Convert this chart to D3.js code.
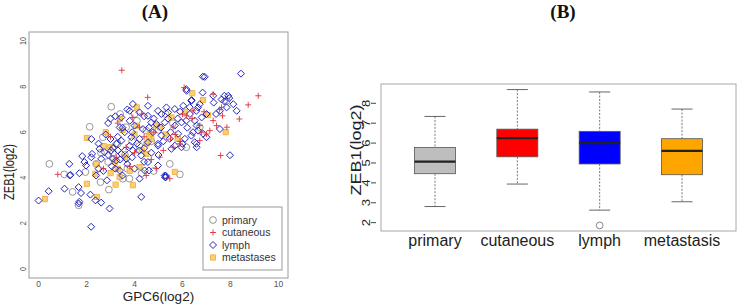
<!DOCTYPE html>
<html>
<head>
<meta charset="utf-8">
<script src="https://cdn.jsdelivr.net/npm/d3@7"></script>
<style>
  html, body { margin: 0; padding: 0; background: #fff; }
  svg { display: block; font-family: "Liberation Sans", Arial, sans-serif; }
</style>
</head>
<body>
<div id="chart"></div>
<script>
// ---- panel A: scatter GPC6 vs ZEB1 (log2) ----
const axisTicksA = [0, 2, 4, 6, 8, 10];

const primaryPts = [
  [0.45, 4.61], [1.07, 4.15], [1.42, 3.38], [1.67, 2.79], [1.95, 4.25], [2.13, 6.24], [2.58, 3.81],
  [2.93, 3.48], [3.03, 7.12], [3.51, 3.96], [3.79, 3.96], [5.47, 4.61], [5.89, 4.15], [2.4, 4.61],
  [2.68, 5.78], [4.49, 6.07], [6.72, 6.22], [7.84, 7.38], [6.16, 5.34], [3.65, 6.22], [3.3, 5.5],
  [3.6, 5.0], [4.0, 6.8], [4.2, 5.4], [4.7, 5.6], [5.0, 6.1], [5.3, 6.8], [2.9, 4.7], [3.9, 5.6],
  [3.4, 6.8], [4.3, 4.2], [4.8, 4.3], [3.1, 5.1], [5.6, 6.4], [4.1, 6.5], [3.7, 4.4], [2.6, 5.1]
];

const cutaneousPts = [
  [3.47, 8.72], [4.55, 7.53], [6.07, 7.96], [9.16, 7.6], [8.74, 7.2], [8.37, 6.58], [7.59, 4.98],
  [7.28, 7.67], [7.63, 7.09], [7.67, 6.72], [7.85, 6.22], [7.28, 6.51], [7.14, 6.07], [7.0, 5.92],
  [7.42, 6.29], [6.72, 6.29], [6.44, 6.94], [6.16, 6.72], [5.89, 5.49], [5.61, 5.34], [5.47, 3.96],
  [5.05, 4.9], [4.9, 4.4], [4.49, 4.1], [0.8, 4.15], [3.93, 6.65], [3.24, 4.9], [5.61, 6.22],
  [3.65, 5.34], [4.21, 6.22], [6.72, 5.63], [7.55, 7.0], [3.0, 5.8], [4.4, 5.8], [4.8, 6.0],
  [5.2, 5.2], [5.7, 5.9], [6.0, 6.8], [6.4, 6.6], [3.3, 6.4], [4.0, 5.1], [4.7, 4.8], [5.5, 5.7],
  [6.9, 6.9], [2.7, 4.4], [3.8, 4.5], [5.9, 5.6], [6.8, 6.0], [4.3, 6.8]
];

const lymphPts = [
  [0.0, 3.0], [0.42, 3.41], [1.08, 3.52], [1.28, 4.61], [1.33, 4.13], [1.67, 3.59], [1.77, 3.33],
  [1.67, 2.87], [1.7, 2.95], [2.16, 3.26], [2.19, 1.85], [2.37, 3.01], [2.61, 2.91], [2.96, 2.65],
  [1.82, 4.95], [1.91, 4.69], [1.98, 4.54], [2.23, 5.05], [2.61, 4.83], [2.85, 3.89], [2.75, 5.12],
  [3.03, 5.2], [3.1, 4.83], [2.54, 5.27], [2.2, 5.7], [2.5, 5.5], [2.8, 5.9], [3.0, 6.6], [3.2, 6.7],
  [3.05, 4.5], [2.7, 4.3], [3.31, 5.2], [3.66, 4.83], [3.24, 4.76], [3.93, 5.2], [4.28, 4.98],
  [4.56, 4.69], [4.21, 3.96], [4.42, 4.32], [4.98, 4.54], [5.26, 4.1], [5.3, 4.02], [5.54, 5.27],
  [5.96, 5.34], [6.59, 5.34], [4.98, 5.41], [4.28, 3.16], [3.45, 5.05], [3.8, 5.41], [3.38, 4.32],
  [6.85, 8.44], [6.17, 7.82], [6.38, 7.41], [6.84, 7.74], [4.56, 7.16], [3.93, 7.24], [3.8, 6.94],
  [4.21, 6.87], [4.98, 6.94], [5.33, 7.09], [5.4, 6.87], [5.68, 7.02], [5.12, 6.8], [6.03, 7.16],
  [6.31, 6.8], [6.65, 7.09], [6.8, 6.65], [3.8, 6.5], [3.45, 6.65], [4.56, 6.72], [4.7, 6.43],
  [4.0, 6.29], [4.35, 6.14], [4.91, 6.36], [5.26, 6.43], [5.68, 6.29], [5.96, 6.43], [6.59, 6.29],
  [6.44, 6.0], [6.86, 5.93], [3.38, 6.21], [3.59, 6.0], [3.87, 5.78], [4.21, 5.71], [4.77, 6.0],
  [5.12, 5.86], [5.47, 5.71], [5.82, 5.93], [6.1, 5.71], [3.45, 5.63], [4.56, 5.56], [4.98, 5.49],
  [5.68, 5.41], [6.51, 5.56], [3.24, 5.49], [7.28, 7.6], [7.63, 7.44], [7.91, 7.6], [7.95, 7.5],
  [7.75, 7.35], [8.12, 7.23], [8.26, 6.94], [7.84, 7.09], [7.56, 6.94], [7.4, 6.8], [7.0, 6.8],
  [6.72, 7.23], [6.37, 7.38], [6.16, 7.89], [6.58, 6.94], [6.51, 6.51], [6.16, 6.51], [6.65, 6.07],
  [7.0, 5.78], [7.56, 6.14], [6.58, 5.49], [6.37, 5.85], [6.0, 5.49], [8.44, 8.57], [6.93, 8.43],
  [7.98, 4.99], [5.3, 4.09], [5.28, 4.02], [4.6, 4.32], [7.3, 7.3], [7.75, 7.6], [3.6, 5.2],
  [3.7, 4.6], [3.9, 4.9], [4.1, 5.5], [4.4, 5.3], [4.7, 5.1], [5.0, 5.0], [5.2, 5.6], [5.5, 6.0],
  [5.8, 6.6], [6.2, 6.2], [3.3, 5.8], [3.5, 6.2], [4.6, 6.2], [5.4, 6.6], [3.0, 5.7], [2.9, 5.0],
  [3.2, 4.4], [3.5, 4.1], [4.0, 4.4], [4.4, 4.7], [2.9, 6.4], [3.7, 7.0], [4.4, 6.7], [5.9, 6.9],
  [6.3, 7.1], [4.8, 6.6], [5.1, 6.2], [3.9, 6.0], [4.2, 5.2], [3.4, 4.8], [3.1, 5.3], [2.4, 4.1],
  [2.2, 4.9], [2.5, 4.4], [1.3, 4.1], [1.7, 4.2]
];

const metastasesPts = [
  [0.27, 3.06], [2.01, 3.74], [2.01, 5.75], [2.43, 3.16], [2.37, 4.18], [2.71, 5.39], [3.21, 3.7],
  [3.38, 4.03], [3.93, 3.67], [5.68, 4.26], [6.41, 7.71], [6.86, 7.41], [7.07, 6.75], [7.8, 6.0],
  [4.1, 7.09], [3.38, 6.58], [4.07, 6.29], [4.63, 5.92], [4.7, 5.7], [4.49, 5.05], [4.21, 4.47],
  [5.54, 6.65], [5.05, 6.22], [3.17, 4.71], [2.96, 5.34], [4.5, 5.5], [4.6, 5.8], [3.6, 4.9],
  [4.9, 6.3], [5.8, 5.7], [3.0, 4.2], [2.4, 4.6], [4.3, 5.2], [3.5, 6.1], [5.3, 5.9], [3.8, 4.3],
  [6.1, 6.9], [2.8, 6.0], [4.0, 5.9], [3.3, 4.4]
];

const legendLabels = ["primary", "cutaneous", "lymph", "metastases"];

// ---- panel B: boxplots of ZEB1 by group ----
const boxCategories = ["primary", "cutaneous", "lymph", "metastasis"];
const boxColors = ["#bebebe", "#ff0000", "#0000ff", "#ffa500"];
const whiskerLow = [2.81, 3.94, 2.63, 3.05];
const quartile1 = [4.46, 5.31, 4.95, 4.41];
const medians = [5.07, 6.25, 6.0, 5.61];
const quartile3 = [5.78, 6.7, 6.59, 6.22];
const whiskerHigh = [7.34, 8.69, 8.57, 7.71];
const outliers = [[], [], [1.86], []];
const axisTicksB = [2, 3, 4, 5, 6, 7, 8];

const width = 740;
const height = 304;

const svg = d3.select("#chart")
  .append("svg")
  .attr("width", width)
  .attr("height", height)
  .attr("viewBox", `0 0 ${width} ${height}`);

const frameColor = "#9a9a9a";
const textColor = "#222";

drawScatterPanel();
drawBoxPanel();

function drawScatterPanel() {
  const plot = { left: 29, right: 288, top: 32, bottom: 278 };
  const xScale = d3.scaleLinear().domain([-0.4, 10.4]).range([plot.left, plot.right]);
  const yScale = d3.scaleLinear().domain([-0.4, 10.4]).range([plot.bottom, plot.top]);

  svg.append("text")
    .attr("x", 155)
    .attr("y", 18)
    .attr("text-anchor", "middle")
    .attr("font-family", "'Liberation Serif', 'Times New Roman', serif")
    .attr("font-weight", "bold")
    .attr("font-size", 19)
    .attr("fill", "#111")
    .text("(A)");

  svg.append("rect")
    .attr("x", plot.left)
    .attr("y", plot.top)
    .attr("width", plot.right - plot.left)
    .attr("height", plot.bottom - plot.top)
    .attr("fill", "none")
    .attr("stroke", frameColor)
    .attr("stroke-width", 1);

  svg.append("g")
    .selectAll("text")
    .data(axisTicksA)
    .join("text")
    .attr("x", (d) => xScale(d))
    .attr("y", 287)
    .attr("text-anchor", "middle")
    .attr("font-size", 8.5)
    .attr("fill", "#555")
    .text((d) => d);

  svg.append("g")
    .selectAll("text")
    .data(axisTicksA)
    .join("text")
    .attr("transform", (d) => `translate(26, ${yScale(d)}) rotate(-90) scale(0.8, 1)`)
    .attr("text-anchor", "middle")
    .attr("font-size", 9)
    .attr("fill", "#555")
    .text((d) => d);

  svg.append("text")
    .attr("x", (plot.left + plot.right) / 2)
    .attr("y", 301)
    .attr("text-anchor", "middle")
    .attr("font-size", 13.5)
    .attr("fill", textColor)
    .text("GPC6(log2)");

  svg.append("text")
    .attr("transform", "translate(14, 172) rotate(-90) scale(0.74, 1)")
    .attr("text-anchor", "middle")
    .attr("font-size", 15)
    .attr("fill", textColor)
    .text("ZEB1(log2)");

  const markers = {
    primary: (g) => g.append("circle").attr("r", 3.4).attr("fill", "none").attr("stroke", "#8c8c8c").attr("stroke-width", 0.9),
    cutaneous: (g) => g.append("path").attr("d", "M-3,0H3M0,-3V3").attr("fill", "none").attr("stroke", "#e0303c").attr("stroke-width", 0.9),
    lymph: (g) => g.append("path").attr("d", "M0,-3.5L3.5,0L0,3.5L-3.5,0Z").attr("fill", "none").attr("stroke", "#2424c0").attr("stroke-width", 1),
    metastases: (g) => {
      g.append("rect").attr("x", -2.6).attr("y", -2.6).attr("width", 5.2).attr("height", 5.2)
        .attr("fill", "#f6c14e").attr("fill-opacity", 0.85).attr("stroke", "#f0a830").attr("stroke-width", 0.8);
      g.append("path").attr("d", "M-2.6,-2.6L2.6,2.6M2.6,-2.6L-2.6,2.6").attr("stroke", "#f8dc98").attr("stroke-width", 0.7);
    },
  };

  const layers = [
    ["primary", primaryPts],
    ["metastases", metastasesPts],
    ["lymph", lymphPts],
    ["cutaneous", cutaneousPts],
  ];

  layers.forEach(([name, pts]) => {
    const group = svg.append("g").attr("class", `pts-${name}`);
    group.selectAll("g")
      .data(pts)
      .join("g")
      .attr("transform", (d) => `translate(${xScale(d[0])}, ${yScale(d[1])})`)
      .each(function () {
        markers[name](d3.select(this));
      });
  });

  // legend, bottom-right corner
  const legend = svg.append("g").attr("transform", "translate(203, 207)");
  legend.append("rect")
    .attr("width", 79)
    .attr("height", 63)
    .attr("fill", "#fff")
    .attr("stroke", frameColor)
    .attr("stroke-width", 1);

  legendLabels.forEach((label, i) => {
    const row = legend.append("g").attr("transform", `translate(10, ${13 + i * 12.5})`);
    markers[label](row);
    row.append("text")
      .attr("x", 9)
      .attr("y", 3.8)
      .attr("font-size", 10.5)
      .attr("fill", "#333")
      .text(label);
  });
}

function drawBoxPanel() {
  const plot = { left: 381, right: 736, top: 84, bottom: 231 };
  const xScale = d3.scalePoint().domain(boxCategories).range([435, 682]);
  const yScale = d3.scaleLinear().domain([1.58, 8.97]).range([plot.bottom, plot.top]);
  const boxWidth = 41;
  const capWidth = 21;

  svg.append("text")
    .attr("x", 563)
    .attr("y", 18)
    .attr("text-anchor", "middle")
    .attr("font-family", "'Liberation Serif', 'Times New Roman', serif")
    .attr("font-weight", "bold")
    .attr("font-size", 19)
    .attr("fill", "#111")
    .text("(B)");

  svg.append("rect")
    .attr("x", plot.left)
    .attr("y", plot.top)
    .attr("width", plot.right - plot.left)
    .attr("height", plot.bottom - plot.top)
    .attr("fill", "none")
    .attr("stroke", "#a8a8a8")
    .attr("stroke-width", 1);

  const yAxis = svg.append("g");
  yAxis.selectAll("line")
    .data(axisTicksB)
    .join("line")
    .attr("x1", 371)
    .attr("x2", 376)
    .attr("y1", (d) => yScale(d))
    .attr("y2", (d) => yScale(d))
    .attr("stroke", "#444")
    .attr("stroke-width", 1);

  yAxis.selectAll("text")
    .data(axisTicksB)
    .join("text")
    .attr("transform", (d) => `translate(369.5, ${yScale(d)}) rotate(-90) scale(1.3, 1)`)
    .attr("text-anchor", "middle")
    .attr("font-size", 10)
    .attr("fill", textColor)
    .text((d) => d);

  svg.append("text")
    .attr("transform", "translate(361, 150) rotate(-90) scale(1.2, 1)")
    .attr("text-anchor", "middle")
    .attr("font-size", 15)
    .attr("fill", textColor)
    .text("ZEB1(log2)");

  boxCategories.forEach((cat, i) => {
    const cx = xScale(cat);
    const g = svg.append("g");

    // whiskers (dashed) and caps
    g.append("line")
      .attr("x1", cx).attr("x2", cx)
      .attr("y1", yScale(whiskerHigh[i])).attr("y2", yScale(quartile3[i]))
      .attr("stroke", "#555").attr("stroke-width", 0.8).attr("stroke-dasharray", "2 1.5");
    g.append("line")
      .attr("x1", cx).attr("x2", cx)
      .attr("y1", yScale(quartile1[i])).attr("y2", yScale(whiskerLow[i]))
      .attr("stroke", "#555").attr("stroke-width", 0.8).attr("stroke-dasharray", "2 1.5");
    [whiskerHigh[i], whiskerLow[i]].forEach((v) => {
      g.append("line")
        .attr("x1", cx - capWidth / 2).attr("x2", cx + capWidth / 2)
        .attr("y1", yScale(v)).attr("y2", yScale(v))
        .attr("stroke", "#555").attr("stroke-width", 0.9);
    });

    g.append("rect")
      .attr("x", cx - boxWidth / 2)
      .attr("y", yScale(quartile3[i]))
      .attr("width", boxWidth)
      .attr("height", yScale(quartile1[i]) - yScale(quartile3[i]))
      .attr("fill", boxColors[i])
      .attr("stroke", "#555")
      .attr("stroke-width", 0.8);

    g.append("line")
      .attr("x1", cx - boxWidth / 2).attr("x2", cx + boxWidth / 2)
      .attr("y1", yScale(medians[i])).attr("y2", yScale(medians[i]))
      .attr("stroke", "#222").attr("stroke-width", 2.4);

    g.selectAll("circle")
      .data(outliers[i])
      .join("circle")
      .attr("cx", cx)
      .attr("cy", (d) => yScale(d))
      .attr("r", 3.4)
      .attr("fill", "none")
      .attr("stroke", "#777")
      .attr("stroke-width", 0.9);

    svg.append("text")
      .attr("x", cx)
      .attr("y", 246)
      .attr("text-anchor", "middle")
      .attr("font-size", 16)
      .attr("fill", textColor)
      .text(cat);
  });
}
</script>
</body>
</html>
